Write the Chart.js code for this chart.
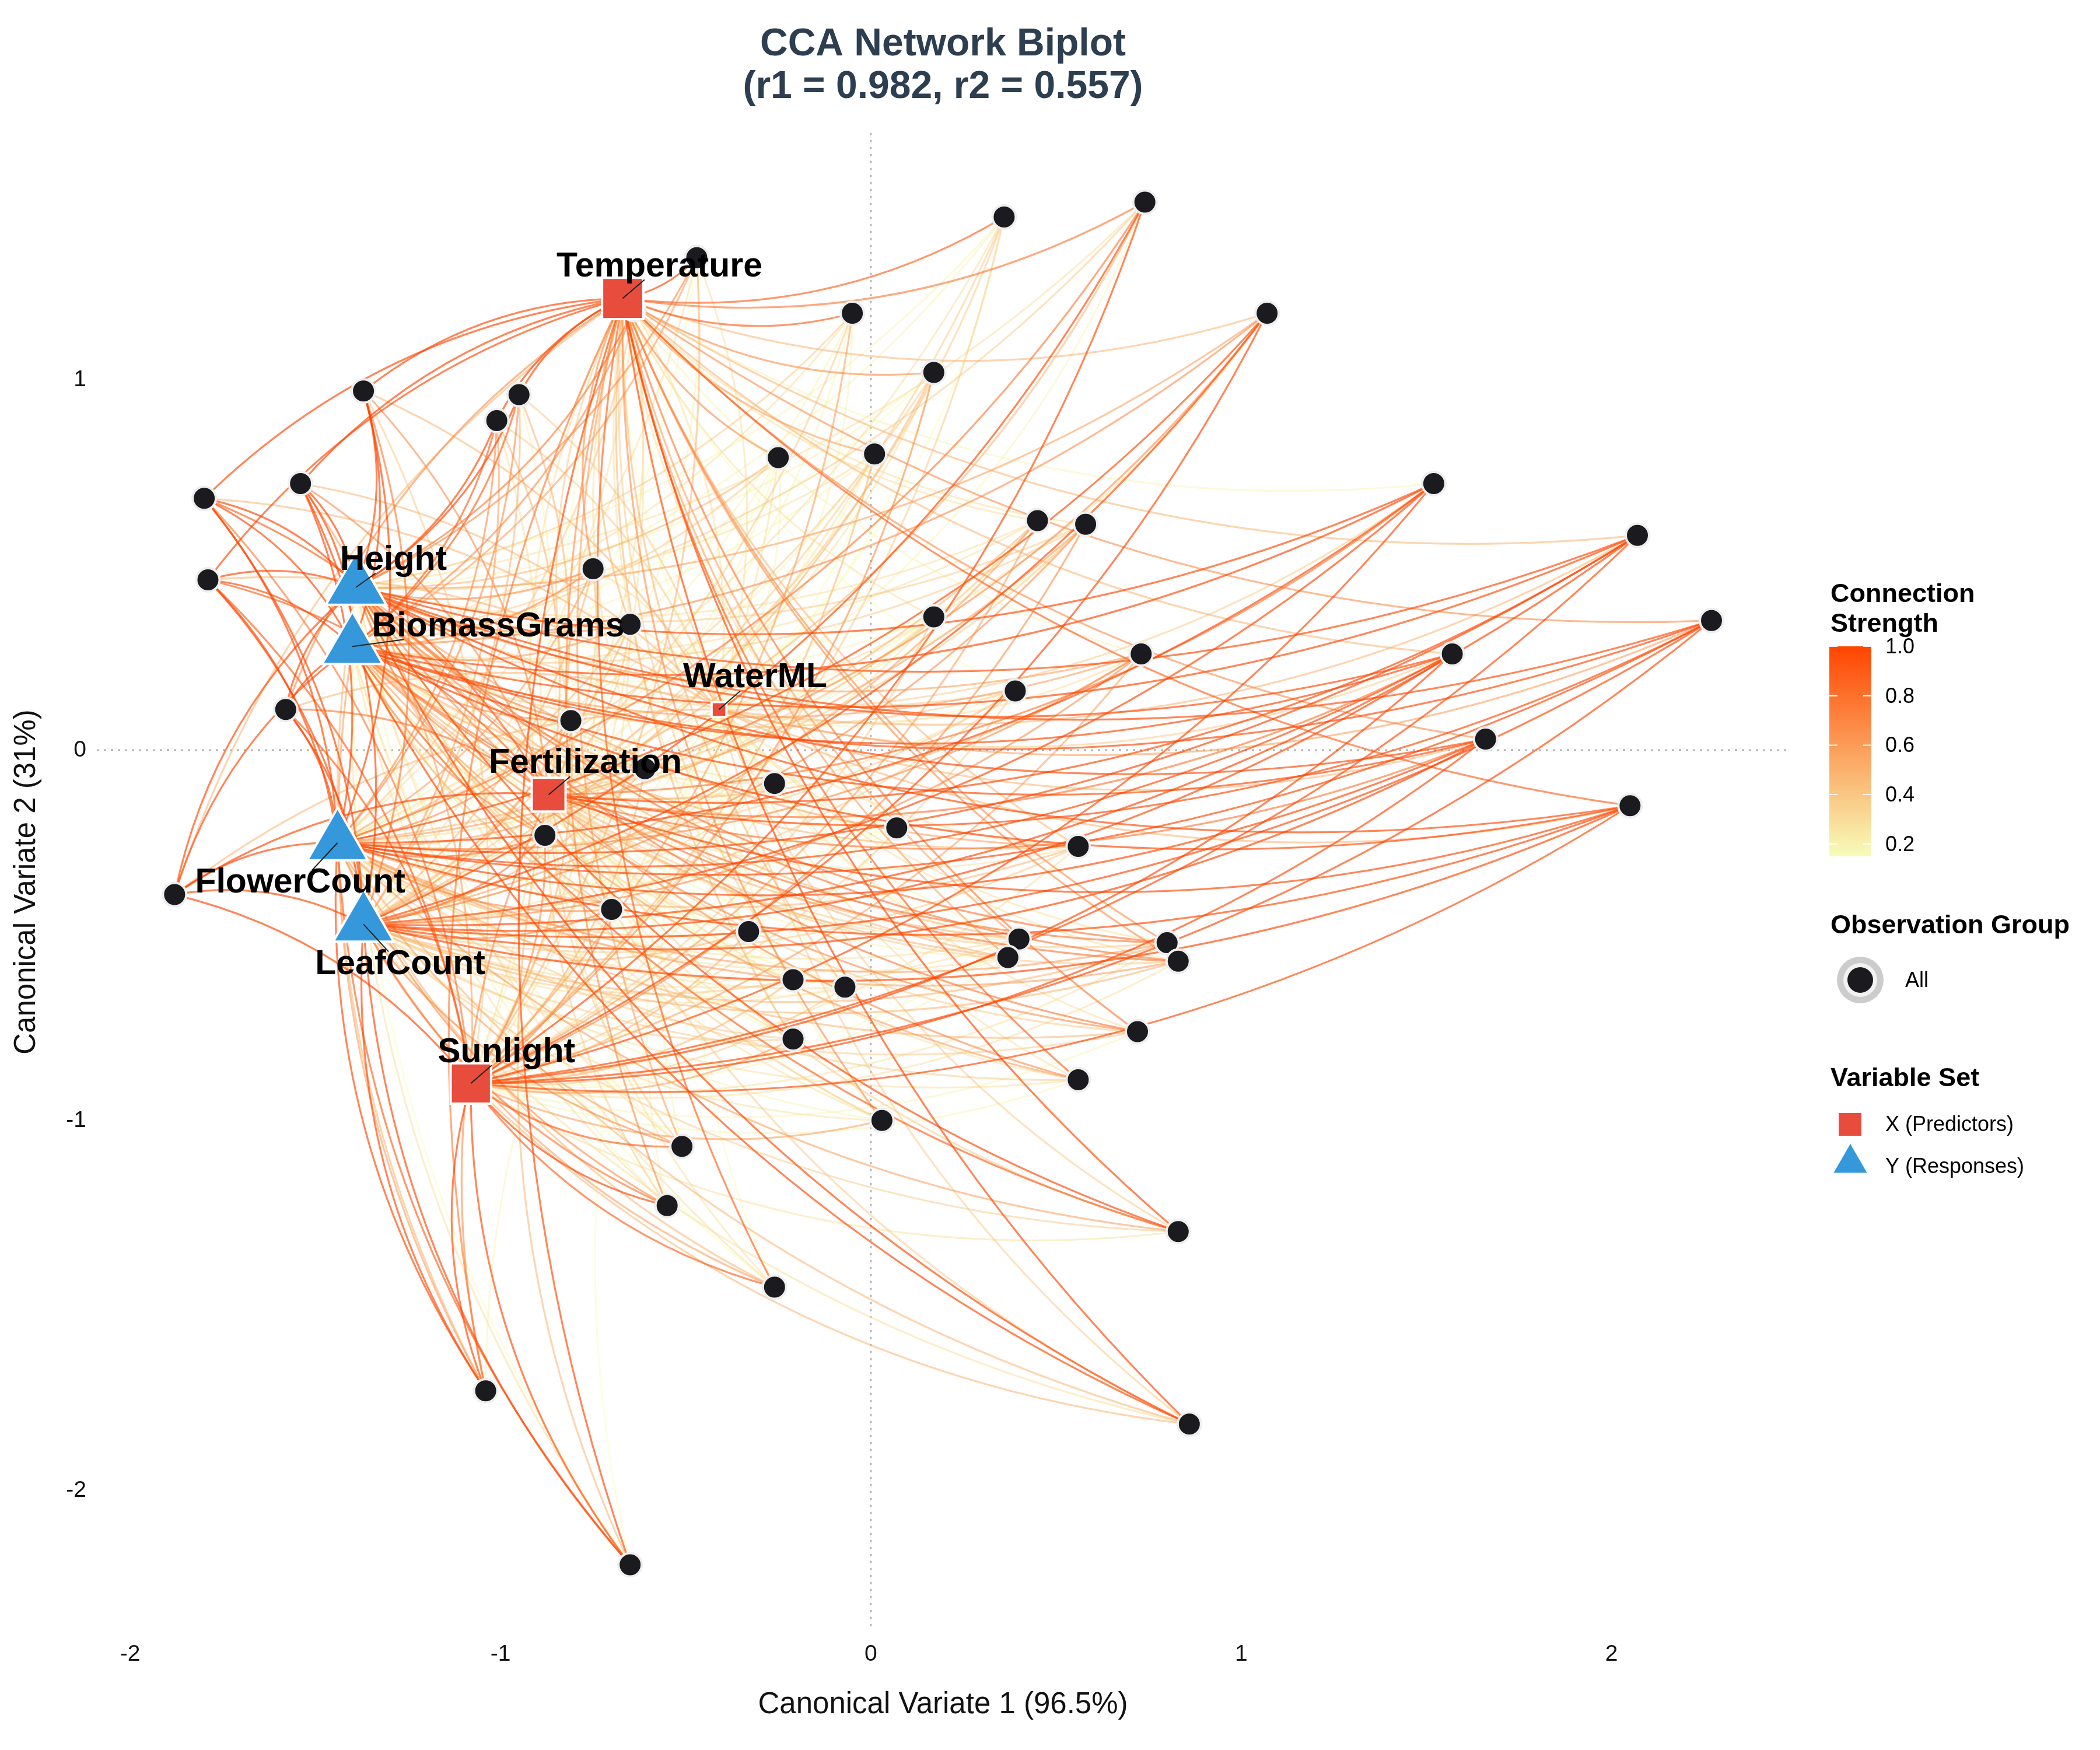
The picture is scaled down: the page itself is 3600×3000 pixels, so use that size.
<!DOCTYPE html>
<html>
<head>
<meta charset="utf-8">
<script src="https://cdn.jsdelivr.net/npm/chart.js@4.4.1/dist/chart.umd.min.js"></script>
<style>
  html, body { margin: 0; padding: 0; background: #fff; }
  #wrap { width: 3600px; height: 3000px; }
</style>
</head>
<body>
<div id="wrap"><canvas id="chart" width="3600" height="3000"></canvas></div>
<script>
// ==================== DATA ====================
const obsX = [0.74, 0.36, -0.47, -0.05, 1.07, 0.17, -1.37, -0.95, -1.01, -0.25,
  0.01, -1.54, -1.80, 1.52, 0.45, 0.58, 2.07, -0.75, -1.79, -0.65,
  0.17, 2.27, 0.73, 1.57, 0.39, -1.58, -0.81, 1.66, -0.61, -0.26,
  2.05, 0.07, -0.88, 0.56, -1.88, -0.70, -0.33, 0.40, 0.80, 0.83,
  0.37, -0.21, -0.07, 0.72, -0.21, 0.56, 0.03, -0.51, -0.55, 0.83,
  -0.26, -1.04, 0.86, -0.65, -0.64];
const obsY = [1.48, 1.44, 1.33, 1.18, 1.18, 1.02, 0.97, 0.96, 0.89, 0.79,
  0.80, 0.72, 0.68, 0.72, 0.62, 0.61, 0.58, 0.49, 0.46, 0.34,
  0.36, 0.35, 0.26, 0.26, 0.16, 0.11, 0.08, 0.03, -0.05, -0.09,
  -0.15, -0.21, -0.23, -0.26, -0.39, -0.43, -0.49, -0.51, -0.52, -0.57,
  -0.56, -0.62, -0.64, -0.76, -0.78, -0.89, -1.00, -1.07, -1.23, -1.30,
  -1.45, -1.73, -1.82, -2.20, 1.19];

const varNames = ["Temperature", "WaterML", "Fertilization", "Sunlight",
  "Height", "BiomassGrams", "FlowerCount", "LeafCount"];
const varSet = ["X", "X", "X", "X", "Y", "Y", "Y", "Y"];
const varX = [-0.67, -0.41, -0.87, -1.08, -1.39, -1.40, -1.44, -1.37];
const varY = [1.22, 0.11, -0.12, -0.90, 0.44, 0.28, -0.25, -0.47];

// connection strength observation -> variable (same order as obsX)
const strengthTemperature = [0.8, 0.9, 1.0, 0.9, 0.5, 0.7, 1.0, 1.0, 1.0, 0.7,
  0.6, 1.0, 1.0, 0.2, 0.3, 0.3, 0.5, 0.7, 1.0, 0.5,
  0.3, 0.7, 0.2, 0.5, 0.15, 0.7, 0.4, 0.7, 0.3, 0.15,
  0.9, 0.3, 0.3, 0.5, 0.5, 0.15, 0.3, 0.6, 0.7, 0.7,
  0.6, 0.4, 0.5, 0.8, 0.5, 0.9, 0.7, 0.6, 0.7, 1.0,
  0.9, 0.8, 1.0, 1.0, 1.0];
const strengthWaterML = [0.2, 0.15, 0.3, 0.2, 0.3, 0.15, 0.5, 0.4, 0.4, 0.2,
  0.15, 0.5, 0.5, 0.4, 0.2, 0.2, 0.5, 0.3, 0.5, 0.3,
  0.15, 0.6, 0.3, 0.4, 0.2, 0.5, 0.3, 0.5, 0.2, 0.2,
  0.5, 0.15, 0.3, 0.3, 0.5, 0.2, 0.15, 0.2, 0.3, 0.3,
  0.2, 0.15, 0.15, 0.3, 0.15, 0.3, 0.2, 0.2, 0.2, 0.4,
  0.15, 0.2, 0.4, 0.15, 0.3];
const strengthFertilization = [0.5, 0.4, 0.2, 0.2, 0.7, 0.3, 0.7, 0.5, 0.5, 0.2,
  0.2, 0.7, 0.9, 0.8, 0.4, 0.4, 1.0, 0.4, 0.9, 0.4,
  0.2, 1.0, 0.5, 0.8, 0.3, 0.8, 0.5, 0.8, 0.4, 0.2,
  1.0, 0.15, 0.5, 0.3, 1.0, 0.5, 0.3, 0.3, 0.4, 0.4,
  0.2, 0.3, 0.2, 0.4, 0.3, 0.3, 0.2, 0.4, 0.4, 0.4,
  0.3, 0.7, 0.4, 0.5, 0.3];
const strengthSunlight = [1.0, 0.4, 0.5, 0.6, 1.0, 0.7, 0.4, 0.2, 0.3, 0.3,
  0.5, 0.6, 0.8, 1.0, 0.6, 0.7, 1.0, 0.3, 0.9, 0.3,
  0.4, 1.0, 0.6, 1.0, 0.4, 0.9, 0.5, 1.0, 0.5, 0.3,
  1.0, 0.2, 0.7, 0.3, 1.0, 0.7, 0.5, 0.15, 0.3, 0.3,
  0.2, 0.5, 0.4, 0.2, 0.6, 0.2, 0.6, 0.9, 1.0, 0.3,
  0.9, 1.0, 0.5, 1.0, 0.3];
const strengthHeight = [0.3, 0.2, 0.7, 0.4, 0.6, 0.2, 1.0, 1.0, 1.0, 0.5,
  0.3, 1.0, 1.0, 1.0, 0.3, 0.4, 1.0, 0.7, 1.0, 0.6,
  0.15, 1.0, 0.6, 1.0, 0.4, 1.0, 0.7, 1.0, 0.5, 0.3,
  1.0, 0.2, 0.7, 0.6, 1.0, 0.5, 0.2, 0.5, 0.8, 0.8,
  0.5, 0.15, 0.2, 0.8, 0.15, 0.7, 0.4, 0.2, 0.2, 1.0,
  0.3, 0.5, 1.0, 0.15, 0.8];
const strengthBiomassGrams = [0.4, 0.2, 0.6, 0.3, 0.7, 0.15, 1.0, 0.9, 0.9, 0.4,
  0.2, 1.0, 1.0, 1.0, 0.3, 0.4, 1.0, 0.7, 1.0, 0.6,
  0.2, 1.0, 0.6, 1.0, 0.4, 1.0, 0.7, 1.0, 0.5, 0.3,
  1.0, 0.2, 0.7, 0.5, 1.0, 0.5, 0.3, 0.5, 0.8, 0.8,
  0.5, 0.2, 0.15, 0.7, 0.15, 0.6, 0.3, 0.3, 0.3, 0.9,
  0.15, 0.6, 1.0, 0.3, 0.7];
const strengthFlowerCount = [0.8, 0.3, 0.3, 0.2, 1.0, 0.4, 1.0, 0.7, 0.7, 0.2,
  0.2, 1.0, 1.0, 1.0, 0.5, 0.6, 1.0, 0.6, 1.0, 0.5,
  0.3, 1.0, 0.7, 1.0, 0.4, 1.0, 0.7, 1.0, 0.6, 0.3,
  1.0, 0.15, 0.8, 0.5, 1.0, 0.7, 0.4, 0.3, 0.6, 0.6,
  0.3, 0.3, 0.3, 0.5, 0.4, 0.4, 0.2, 0.6, 0.7, 0.6,
  0.5, 1.0, 0.5, 0.9, 0.4];
const strengthLeafCount = [1.0, 0.4, 0.15, 0.4, 1.0, 0.5, 0.8, 0.5, 0.6, 0.15,
  0.3, 1.0, 1.0, 1.0, 0.6, 0.7, 1.0, 0.5, 1.0, 0.5,
  0.3, 1.0, 0.7, 1.0, 0.4, 1.0, 0.6, 1.0, 0.5, 0.3,
  1.0, 0.15, 0.8, 0.4, 1.0, 0.7, 0.5, 0.3, 0.5, 0.5,
  0.2, 0.4, 0.3, 0.4, 0.4, 0.3, 0.3, 0.7, 0.8, 0.4,
  0.6, 1.0, 0.3, 1.0, 0.3];

const xTicks = [-2, -1, 0, 1, 2];
const yTicks = [-2, -1, 0, 1];
const strengthTicks = [0.2, 0.4, 0.6, 0.8, 1.0];

const titleLines = ["CCA Network Biplot", "(r1 = 0.982, r2 = 0.557)"];
const xTitle = "Canonical Variate 1 (96.5%)";
const yTitle = "Canonical Variate 2 (31%)";
const groupLabels = ["All"];
const setLabels = ["X (Predictors)", "Y (Responses)"];

const strengthByVar = [strengthTemperature, strengthWaterML, strengthFertilization, strengthSunlight,
  strengthHeight, strengthBiomassGrams, strengthFlowerCount, strengthLeafCount];

// ==================== STYLE ====================
const FONT = '"Liberation Sans", Arial, sans-serif';
const TITLE_COLOR = "#2C3E50";
const X_COLOR = "#E74C3C";
const Y_COLOR = "#3498DB";
const OBS_FILL = "#1B1A1E";
const LOW_RGB = [247, 252, 185];
const HIGH_RGB = [255, 69, 0];
const CURVE = 0.17;
// marker radius per variable (same order as varNames)
const varRadius = [50, 18, 41, 49, 60, 60, 60, 60];
// label offset from marker, pixels
const labelDx = [63, 62, 63, 61, 64, 250, -64, 63];
const labelDy = [-54, -54, -53, -53, -46, -34, 69, 69];

const allStrength = strengthByVar.flat();
const sMin = Math.min(...allStrength);
const sMax = Math.max(...allStrength);

function strengthT(s) {
  return Math.max(0, Math.min(1, (s - sMin) / (sMax - sMin)));
}

function strengthColor(s) {
  const t = strengthT(s);
  const c = LOW_RGB.map((lo, k) => Math.round(lo + (HIGH_RGB[k] - lo) * t));
  return `rgb(${c[0]},${c[1]},${c[2]})`;
}

// ==================== PLUGINS ====================
const networkCurves = {
  id: "networkCurves",
  beforeDatasetsDraw(chart) {
    const { ctx, chartArea, scales: { x, y } } = chart;
    ctx.save();
    ctx.beginPath();
    ctx.rect(chartArea.left, chartArea.top, chartArea.right - chartArea.left, chartArea.bottom - chartArea.top);
    ctx.clip();

    // dotted reference lines
    ctx.strokeStyle = "#B4B4B4";
    ctx.lineWidth = 3;
    ctx.setLineDash([4, 8]);
    ctx.beginPath();
    ctx.moveTo(chartArea.left, y.getPixelForValue(0));
    ctx.lineTo(chartArea.right, y.getPixelForValue(0));
    ctx.moveTo(x.getPixelForValue(0), chartArea.top);
    ctx.lineTo(x.getPixelForValue(0), chartArea.bottom);
    ctx.stroke();
    ctx.setLineDash([]);

    const links = [];
    strengthByVar.forEach((arr, j) => arr.forEach((s, i) => links.push({ i, j, s })));
    links.sort((a, b) => a.s - b.s);

    ctx.lineWidth = 3.2;
    ctx.lineCap = "round";
    links.forEach(l => {
      const x0 = x.getPixelForValue(varX[l.j]), y0 = y.getPixelForValue(varY[l.j]);
      const x1 = x.getPixelForValue(obsX[l.i]), y1 = y.getPixelForValue(obsY[l.i]);
      const dx = x1 - x0, dy = y1 - y0;
      const cx = (x0 + x1) / 2 - dy * CURVE;
      const cy = (y0 + y1) / 2 + dx * CURVE;
      ctx.globalAlpha = 0.45 + 0.2 * strengthT(l.s);
      ctx.strokeStyle = strengthColor(l.s);
      ctx.beginPath();
      ctx.moveTo(x0, y0);
      ctx.quadraticCurveTo(cx, cy, x1, y1);
      ctx.stroke();
    });
    ctx.restore();
  }
};

const varLabels = {
  id: "varLabels",
  afterDatasetsDraw(chart) {
    const { ctx, scales: { x, y } } = chart;
    ctx.save();
    ctx.font = `bold 59px ${FONT}`;
    ctx.textAlign = "center";
    ctx.textBaseline = "middle";
    varNames.forEach((name, j) => {
      const px = x.getPixelForValue(varX[j]), py = y.getPixelForValue(varY[j]);
      const lx = px + labelDx[j], ly = py + labelDy[j];
      const hw = ctx.measureText(name).width / 2, hh = 22;
      // leader segment from the marker up to the label box
      const dx = lx - px, dy = ly - py;
      const tx = dx !== 0 ? (Math.abs(dx) - hw) / Math.abs(dx) : 0;
      const ty = dy !== 0 ? (Math.abs(dy) - hh) / Math.abs(dy) : 0;
      const t = Math.max(0, tx, ty);
      ctx.strokeStyle = "#222";
      ctx.lineWidth = 2;
      ctx.beginPath();
      ctx.moveTo(px, py);
      ctx.lineTo(px + dx * t, py + dy * t);
      ctx.stroke();
      ctx.fillStyle = "#000";
      ctx.fillText(name, lx, ly);
    });
    ctx.restore();
  }
};

const titleAndLegend = {
  id: "titleAndLegend",
  afterDraw(chart) {
    const { ctx, chartArea } = chart;
    ctx.save();
    // title
    ctx.fillStyle = TITLE_COLOR;
    ctx.font = `bold 66px ${FONT}`;
    ctx.textAlign = "center";
    ctx.textBaseline = "middle";
    const cx = (chartArea.left + chartArea.right) / 2;
    ctx.fillText(titleLines[0], cx, 77);
    ctx.fillText(titleLines[1], cx, 150);

    // colourbar legend
    const lx = 3138;
    ctx.fillStyle = "#000";
    ctx.textAlign = "left";
    ctx.textBaseline = "alphabetic";
    ctx.font = `bold 45px ${FONT}`;
    ctx.fillText("Connection", lx, 1032);
    ctx.fillText("Strength", lx, 1083);

    const barL = 3136, barR = 3208, barT = 1108, barB = 1468;
    const yOf = v => barT + (sMax - v) / (sMax - sMin) * (barB - barT);
    const grad = ctx.createLinearGradient(0, barT, 0, barB);
    for (let k = 0; k <= 20; k++) {
      const v = sMax - (sMax - sMin) * k / 20;
      grad.addColorStop(k / 20, strengthColor(v));
    }
    ctx.fillStyle = grad;
    ctx.fillRect(barL, barT, barR - barL, barB - barT);
    ctx.strokeStyle = "#fff";
    ctx.lineWidth = 2;
    ctx.font = `36px ${FONT}`;
    ctx.fillStyle = "#000";
    ctx.textBaseline = "middle";
    strengthTicks.forEach(v => {
      const ty = yOf(v);
      ctx.beginPath();
      ctx.moveTo(barL, ty); ctx.lineTo(barL + 14, ty);
      ctx.moveTo(barR - 14, ty); ctx.lineTo(barR, ty);
      ctx.stroke();
      ctx.fillText(v.toFixed(1), 3232, ty + 2);
    });

    // observation group
    ctx.textBaseline = "alphabetic";
    ctx.font = `bold 45px ${FONT}`;
    ctx.fillText("Observation Group", lx, 1600);
    const kx = 3189, ky = 1680;
    [[40, "#CCCCCC"], [29, "#F2F2F2"], [22, OBS_FILL]].forEach(([r, c]) => {
      ctx.fillStyle = c;
      ctx.beginPath(); ctx.arc(kx, ky, r, 0, Math.PI * 2); ctx.fill();
    });
    ctx.fillStyle = "#000";
    ctx.font = `36px ${FONT}`;
    ctx.textBaseline = "middle";
    ctx.fillText(groupLabels[0], 3266, ky + 2);

    // variable set
    ctx.textBaseline = "alphabetic";
    ctx.font = `bold 45px ${FONT}`;
    ctx.fillText("Variable Set", lx, 1862);
    ctx.fillStyle = X_COLOR;
    ctx.fillRect(3152, 1908, 39, 39);
    ctx.fillStyle = Y_COLOR;
    const tr = 33, tx = 3172, ty = 1994;
    ctx.beginPath();
    ctx.moveTo(tx, ty - tr);
    ctx.lineTo(tx + tr * 0.866, ty + tr * 0.5);
    ctx.lineTo(tx - tr * 0.866, ty + tr * 0.5);
    ctx.closePath(); ctx.fill();
    ctx.fillStyle = "#000";
    ctx.font = `36px ${FONT}`;
    ctx.textBaseline = "middle";
    ctx.fillText(setLabels[0], 3232, 1929);
    ctx.fillText(setLabels[1], 3232, 2001);
    ctx.restore();
  }
};

// ==================== CHART ====================
Chart.defaults.font.family = FONT;
Chart.defaults.color = "#111";

const xIdx = varSet.map((s, i) => s === "X" ? i : -1).filter(i => i >= 0);
const yIdx = varSet.map((s, i) => s === "Y" ? i : -1).filter(i => i >= 0);

new Chart(document.getElementById("chart"), {
  type: "scatter",
  data: {
    datasets: [
      {
        label: "X (Predictors)",
        data: xIdx.map(i => ({ x: varX[i], y: varY[i] })),
        pointStyle: "rect",
        pointRadius: xIdx.map(i => varRadius[i]),
        backgroundColor: X_COLOR,
        borderColor: "#FFFFFF",
        borderWidth: 4,
        order: 2
      },
      {
        label: "Y (Responses)",
        data: yIdx.map(i => ({ x: varX[i], y: varY[i] })),
        pointStyle: "triangle",
        pointRadius: yIdx.map(i => varRadius[i]),
        backgroundColor: Y_COLOR,
        borderColor: "#FFFFFF",
        borderWidth: 4,
        order: 1
      },
      {
        label: "All",
        data: obsX.map((v, i) => ({ x: v, y: obsY[i] })),
        pointStyle: "circle",
        pointRadius: 20,
        backgroundColor: OBS_FILL,
        borderColor: "#EEEEEE",
        borderWidth: 4,
        order: 3
      }
    ]
  },
  options: {
    responsive: false,
    devicePixelRatio: 1,
    animation: false,
    events: [],
    layout: { padding: { left: 11, right: 533, top: 228, bottom: 42 } },
    plugins: { legend: { display: false }, tooltip: { enabled: false }, title: { display: false } },
    scales: {
      x: {
        type: "linear",
        min: -2.090,
        max: 2.4795,
        afterBuildTicks: s => { s.ticks = xTicks.map(v => ({ value: v })); },
        afterFit: s => { s.height = 162; },
        grid: { display: false, drawTicks: false },
        border: { display: false },
        ticks: { color: "#111", font: { size: 39 }, padding: 17 },
        title: { display: true, text: xTitle, color: "#111", font: { size: 51 }, padding: { top: 4, bottom: 4 } }
      },
      y: {
        type: "linear",
        min: -2.3787,
        max: 1.6667,
        afterBuildTicks: s => { s.ticks = yTicks.map(v => ({ value: v })); },
        afterFit: s => { s.width = 155; },
        grid: { display: false, drawTicks: false },
        border: { display: false },
        ticks: { color: "#111", font: { size: 39 }, padding: 18 },
        title: { display: true, text: yTitle, color: "#111", font: { size: 51 }, padding: { top: 4, bottom: 4 } }
      }
    }
  },
  plugins: [networkCurves, varLabels, titleAndLegend]
});
</script>
</body>
</html>
